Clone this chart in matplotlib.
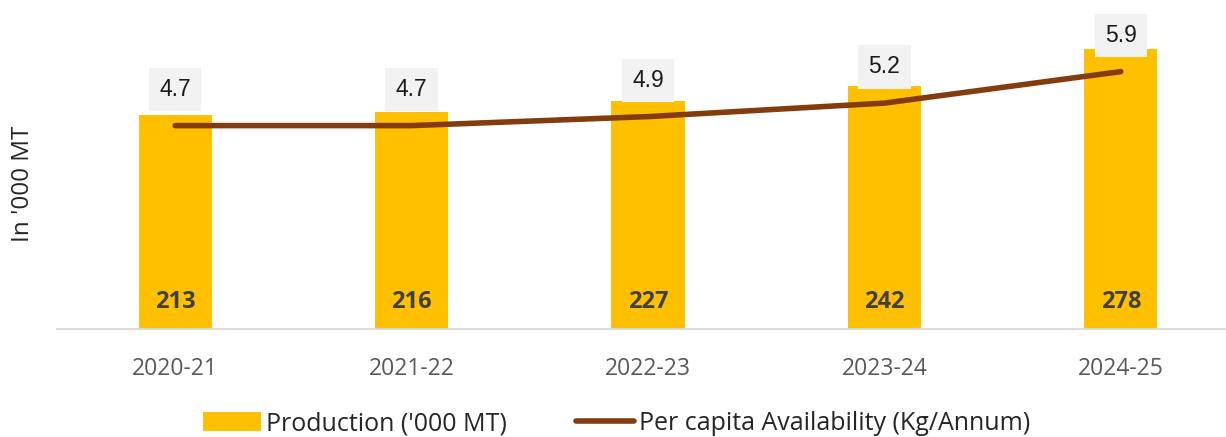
import matplotlib
matplotlib.use("Agg")
import matplotlib.pyplot as plt

years = ["2020-21", "2021-22", "2022-23", "2023-24", "2024-25"]
production = [213, 216, 227, 242, 278]
per_capita = [4.7, 4.7, 4.9, 5.2, 5.9]

plt.rcParams['font.family'] = ['Open Sans', 'DejaVu Sans']

fig = plt.figure(figsize=(12.26, 4.37), dpi=100)
ax = fig.add_axes([57 / 1226, 108 / 437, 1 - 57 / 1226, 1 - 108 / 437])
x = range(len(years))

bars = ax.bar(x, production, width=0.31, color="#FFC000", zorder=2,
              label="Production ('000 MT)")
for xi, v in zip(x, production):
    ax.text(xi, 27, str(v), ha="center", va="center", fontsize=17,
            fontweight="bold", color="#404040", zorder=5)

ax.set_xlim(-0.5, 4.445)
ax.set_ylim(0, 327)
ax.set_xticks(list(x))
ax.set_xticklabels(years, fontsize=16.5, color="#595959")
ax.tick_params(axis="x", length=0, pad=20)
ax.set_yticks([])
for s in ["top", "right", "left"]:
    ax.spines[s].set_visible(False)
ax.spines["bottom"].set_color("#D9D9D9")
ax.spines["bottom"].set_linewidth(1.3)
ax.set_ylabel("In '000 MT", fontsize=17.5, color="#262626")
ax.yaxis.set_label_coords(-0.019, 0.44)

ax2 = ax.twinx()
ax2.set_ylim(0.18, 0.18 + 329 / 45)
ax2.axis("off")
line, = ax2.plot(list(x), per_capita, color="#843C0C", linewidth=4,
                 solid_capstyle="round", zorder=3,
                 label="Per capita Availability (Kg/Annum)")
for xi, v in zip(x, per_capita):
    ax2.annotate(f"{v:.1f}", (xi, v), xytext=(0, 26), textcoords="offset points",
                 ha="center", va="center", fontsize=16.5, color="#1a1a1a",
                 family="Liberation Sans",
                 bbox=dict(boxstyle="square,pad=0.45", fc="#F2F2F2", ec="none"),
                 zorder=6)

fig.legend([bars, line], ["Production ('000 MT)", "Per capita Availability (Kg/Annum)"],
           loc="lower center", bbox_to_anchor=(0.503, -0.05), ncol=2, frameon=False,
           fontsize=18, handlelength=2.3, handleheight=0.8, columnspacing=2.8,
           handletextpad=0.2, labelcolor="#262626")

fig.savefig("out.png", dpi=100)
